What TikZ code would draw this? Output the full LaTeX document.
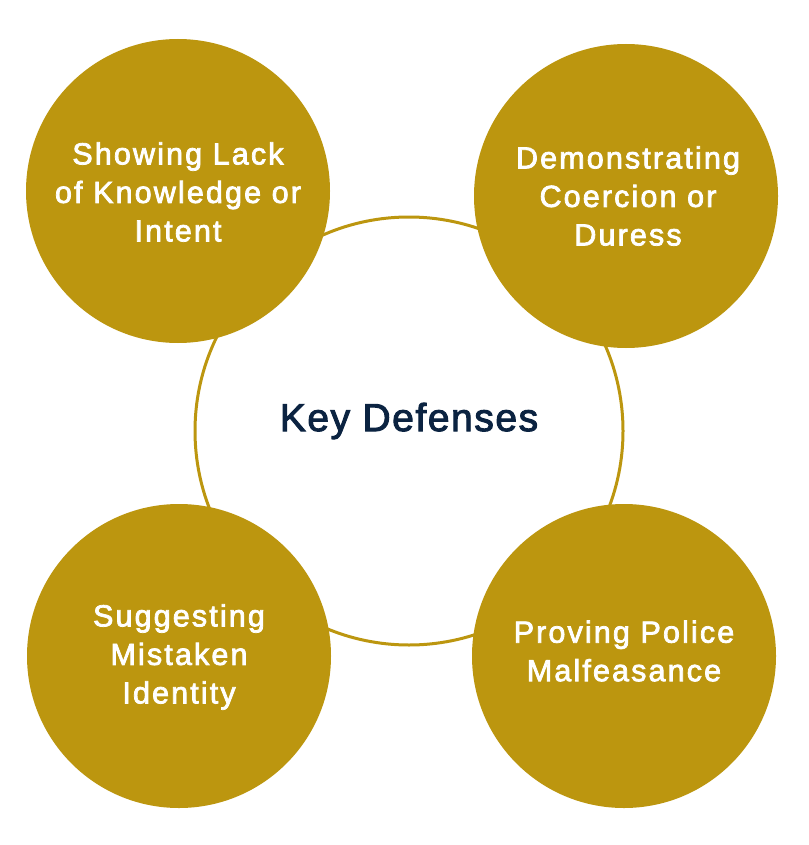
\documentclass[tikz,border=0pt]{standalone}
\usepackage{fontspec}
\setmainfont{Liberation Sans}
\newfontfamily\spacedfont[LetterSpace=7,FakeBold=2.5]{Liberation Sans}
\newfontfamily\centerfont[LetterSpace=4,FakeBold=2.5]{Liberation Sans}
\definecolor{gold}{HTML}{BC960F}
\definecolor{navy}{HTML}{0B2341}
\tikzset{
  outer/.style={circle, fill=gold, draw=none, minimum size=304pt, inner sep=0pt},
  outertext/.style={text=white, align=center, font=\spacedfont\fontsize{30.5}{38.5}\selectfont},
  hub/.style={circle, fill=white, draw=gold, line width=3pt, minimum size=428pt, inner sep=0pt},
  hubtext/.style={text=navy, font=\centerfont\fontsize{39}{46}\selectfont}
}
\begin{document}
\begin{tikzpicture}[x=1pt,y=-1pt]
\useasboundingbox (0,0) rectangle (808,845);
\node[hub] (hub) at (409,431) {};
\node[hubtext] (hubt) at (409,421) {Key Defenses};
\node[outer] (tl) at (178,191) {};
\node[outer] (tr) at (626,196) {};
\node[outer] (bl) at (179,656) {};
\node[outer] (br) at (624,656) {};
\node[outertext] (tlt) at (178,192) {Showing Lack\\of Knowledge or\\Intent};
\node[outertext] (trt) at (628,196) {Demonstrating\\Coercion or\\Duress};
\node[outertext] (blt) at (179,657) {Suggesting\\Mistaken\\Identity};
\node[outertext] (brt) at (624,651) {Proving Police\\Malfeasance};
\end{tikzpicture}
\end{document}
